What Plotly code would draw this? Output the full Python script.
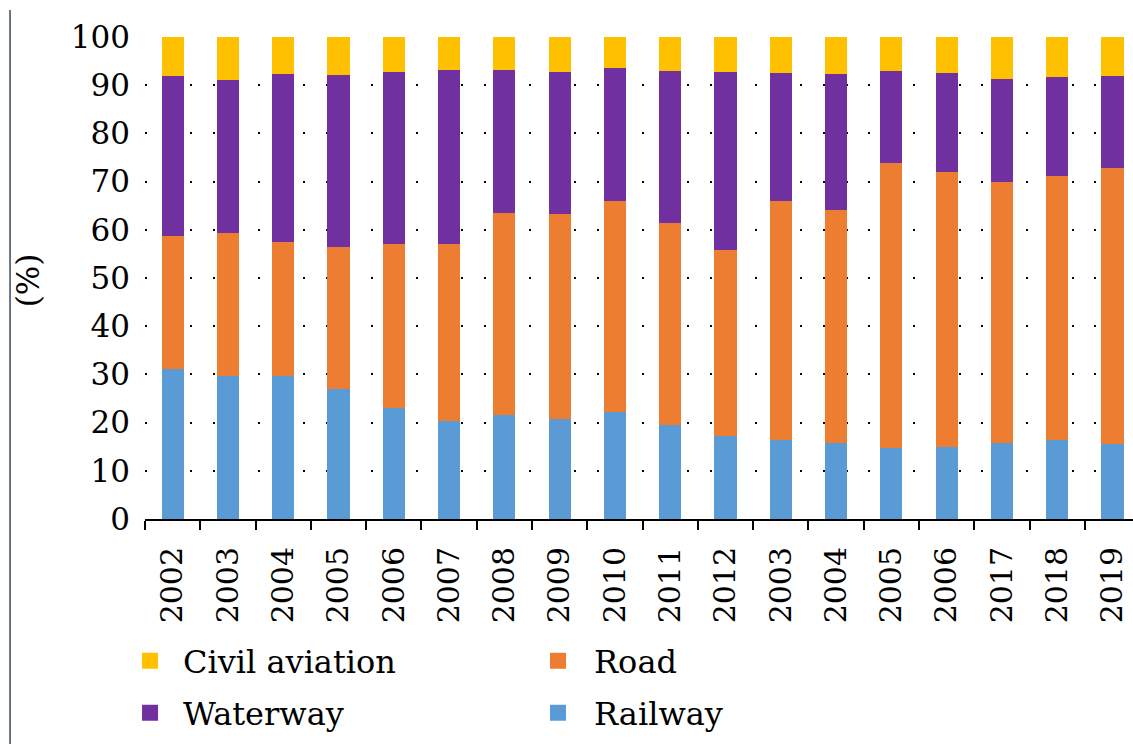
import plotly.graph_objects as go

# anos (o eixo original repete 2003-2006 na segunda metade)
anos = ['2002', '2003', '2004', '2005', '2006', '2007', '2008', '2009', '2010',
        '2011', '2012', '2003', '2004', '2005', '2006', '2017', '2018', '2019']

railway = [31.2, 29.7, 29.7, 27.0, 23.1, 20.4, 21.6, 20.7, 22.2,
           19.5, 17.3, 16.3, 15.8, 14.8, 15.0, 15.7, 16.3, 15.5]
road = [27.6, 29.6, 27.8, 29.5, 34.0, 36.7, 41.9, 42.5, 43.8,
        41.9, 38.5, 49.6, 48.4, 59.1, 57.0, 54.2, 54.9, 57.4]
waterway = [33.1, 31.8, 34.9, 35.7, 35.7, 36.0, 29.6, 29.5, 27.6,
            31.5, 36.9, 26.7, 28.1, 19.1, 20.6, 21.3, 20.5, 19.1]
civil_aviation = [8.1, 8.9, 7.6, 7.8, 7.2, 6.9, 6.9, 7.3, 6.4,
                  7.1, 7.3, 7.4, 7.7, 7.0, 7.4, 8.8, 8.3, 8.0]

cores = {'Railway': '#5B9BD5', 'Road': '#ED7D31',
         'Waterway': '#7030A0', 'Civil aviation': '#FFC000'}

FONTE = 'DejaVu Serif'
idx = list(range(len(anos)))

fig = go.Figure()

# barras empilhadas (de baixo pra cima)
for nome, vals in [('Railway', railway), ('Road', road),
                   ('Waterway', waterway), ('Civil aviation', civil_aviation)]:
    fig.add_trace(go.Bar(x=idx, y=vals, name=nome, width=0.4,
                         marker=dict(color=cores[nome], line=dict(width=0)),
                         showlegend=False))

# legenda 2x2: uma legenda por item pra controlar a posicao
posicoes = {'Civil aviation': ('legend', -0.0283, -0.2946, 56),
            'Waterway': ('legend2', -0.0283, -0.4025, 56),
            'Road': ('legend3', 0.3816, -0.2946, 62),
            'Railway': ('legend4', 0.3816, -0.4025, 62)}
for nome, (leg, lx, ly, iw) in posicoes.items():
    fig.add_trace(go.Scatter(x=[None], y=[None], mode='markers', name=nome,
                             marker=dict(symbol='square', size=16, color=cores[nome]),
                             legend=leg))
    fig.update_layout({leg: dict(x=lx, y=ly, xanchor='left', yanchor='middle',
                                 font=dict(size=32), itemsizing='trace',
                                 itemwidth=iw, bgcolor='rgba(0,0,0,0)')})

fig.update_layout(
    barmode='stack',
    width=1133, height=744,
    margin=dict(l=145, r=0, t=37, b=225),
    plot_bgcolor='white', paper_bgcolor='white',
    font=dict(family=FONTE, size=31, color='black'),
)

fig.update_xaxes(
    type='category', tickmode='array', tickvals=idx, ticktext=anos,
    tickson='boundaries', ticks='outside', ticklen=9, tickwidth=2, tickcolor='black',
    tickangle=-90, showline=True, linecolor='black', linewidth=2,
    showgrid=False, range=[-0.5, 17.37], tickfont=dict(size=30),
    ticklabelstandoff=14,
)
fig.update_yaxes(
    range=[0, 100], dtick=10, showgrid=True, gridcolor='black', gridwidth=1.5,
    griddash='2px,20.6px', zeroline=False, showline=False, ticks='',
    ticklabelstandoff=14, tickfont=dict(size=31),
)

# titulo do eixo y
fig.add_annotation(text='(%)', textangle=-90, x=-0.118, y=0.496,
                   xref='paper', yref='paper', xanchor='center', yanchor='middle',
                   showarrow=False, font=dict(size=31))

# borda fina a esquerda
fig.add_shape(type='line', xref='paper', yref='paper',
              x0=-0.1366, x1=-0.1366, y0=1.056, y1=-0.47,
              line=dict(color='#3b4a5c', width=1.5))

fig.write_html('out.html', config={'displayModeBar': False},
               post_script="document.body.style.margin='0';")
